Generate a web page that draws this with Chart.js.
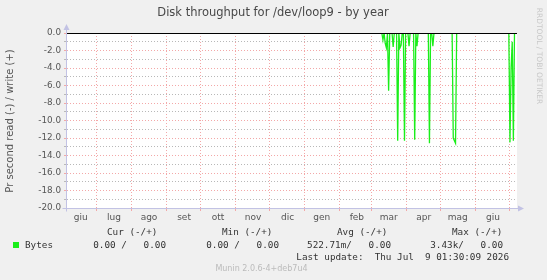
<!DOCTYPE html>
<html>
<head>
<meta charset="utf-8">
<title>Disk throughput for /dev/loop9 - by year</title>
<script src="https://cdn.jsdelivr.net/npm/chart.js@4.4.0/dist/chart.umd.min.js"></script>
<style>
  html, body { margin: 0; padding: 0; background: #f0f0f0; }
  canvas { display: block; }
</style>
</head>
<body>
<canvas id="maincanvas" width="547" height="280"></canvas>
<script>
// x values are days counted from 1 Jul 2025
var xStart = -25.6, xEnd = 371.2;
var monthStarts = [0, 31, 62, 92, 123, 153, 184, 215, 243, 274, 304, 335, 365];
var monthLabels = ["giu", "lug", "ago", "set", "ott", "nov", "dic", "gen", "feb", "mar", "apr", "mag", "giu"];
var monthLabelDays = [-13.5, 15.9, 46.7, 77.6, 107.6, 138.4, 169, 199, 230, 258, 289, 319, 350];

// read bytes per second (negative = read), daily samples
var readDays = [250, 252, 253, 254, 255, 256, 257, 258, 259, 261, 262, 263, 265, 266, 267, 268, 269, 270,
                271, 272, 273, 275, 276, 277, 280, 281, 282, 283, 284, 293, 294, 295, 296, 297, 298,
                314, 315, 316, 317, 318, 364, 365, 366, 367, 368, 369, 371];
var readValues = [0, 0, -0.8, 0, -1.2, -1.7, 0, -6.6, 0, 0, -1.6, 0, 0, -12.3, 0, -1.7, -1.4, 0,
                  0, -12.3, 0, 0, -1.5, 0, 0, -12.2, 0, -1.5, 0, 0, -12.6, 0, 0, -1.5, 0,
                  0, -12.0, -12.3, -12.6, 0, 0, -12.5, -4, -1, -12.3, 0, 0];

var yMin = -20, yMax = 0;

var statHeads = ["Cur (-/+)", "Min (-/+)", "Avg (-/+)", "Max (-/+)"];
var statBytes = ["0.00 /   0.00", "0.00 /   0.00", "522.71m/   0.00", "3.43k/   0.00"];
var lastUpdate = "Last update:  Thu Jul  9 01:30:09 2026";

var green = "#1aee1a";
var axisBlue = "#c2c2e4";
var majorGrid = "#f3a8a8";
var minorGrid = "#b8b8b8";
var mono = "'DejaVu Sans Mono', monospace";
var sans = "'DejaVu Sans', sans-serif";

var points = readDays.map(function(d, i){ return {x: d, y: readValues[i]}; });

var muninDecor = {
    id: "muninDecor",
    beforeDraw: function(chart){
        var c = chart.ctx, a = chart.chartArea;
        c.save();
        c.fillStyle = "#f0f0f0";
        c.fillRect(0, 0, chart.width, chart.height);
        c.fillStyle = "#ffffff";
        c.fillRect(a.left, a.top, a.right - a.left, a.bottom - a.top);
        c.restore();
    },
    afterDatasetsDraw: function(chart){
        var c = chart.ctx, a = chart.chartArea;
        var y0 = Math.round(chart.scales.y.getPixelForValue(0)) + 0.5;
        c.save();
        c.strokeStyle = "#000";
        c.lineWidth = 1;
        c.beginPath();
        c.moveTo(a.left, y0);
        c.lineTo(a.right, y0);
        c.stroke();
        c.restore();
    },
    afterDraw: function(chart){
        var c = chart.ctx, a = chart.chartArea;
        c.save();
        // axes with arrows
        c.strokeStyle = axisBlue;
        c.fillStyle = axisBlue;
        c.lineWidth = 1;
        var ax = a.left - 0.5, ay = a.bottom + 0.5;
        c.beginPath();
        c.moveTo(ax, ay + 3); c.lineTo(ax, a.top - 4);
        c.moveTo(ax - 4, ay); c.lineTo(a.right + 2, ay);
        c.stroke();
        c.beginPath();
        c.moveTo(ax, a.top - 9); c.lineTo(ax - 3, a.top - 3); c.lineTo(ax + 3, a.top - 3); c.closePath();
        c.fill();
        c.beginPath();
        c.moveTo(a.right + 7, ay); c.lineTo(a.right + 1, ay - 3); c.lineTo(a.right + 1, ay + 3); c.closePath();
        c.fill();

        // title
        c.fillStyle = "#484848";
        c.font = "11.5px " + sans;
        c.textAlign = "center";
        c.textBaseline = "middle";
        c.fillText("Disk throughput for /dev/loop9 - by year", 273, 13);

        // y axis title
        c.save();
        c.translate(10, 121);
        c.rotate(-Math.PI / 2);
        c.fillStyle = "#555";
        c.font = "10px " + sans;
        c.fillText("Pr second read (-) / write (+)", 0, 0);
        c.restore();

        // rrdtool credit
        c.save();
        c.translate(539, 56);
        c.rotate(Math.PI / 2);
        c.fillStyle = "#c8c8c8";
        c.font = "7.5px " + sans;
        c.fillText("RRDTOOL / TOBI OETIKER", 0, 0);
        c.restore();

        // legend and stats
        c.fillStyle = "#333";
        c.font = "9.3px " + mono;
        c.textAlign = "left";
        var headX = [107, 222, 337, 452];
        statHeads.forEach(function(t, i){ c.fillText(t, headX[i], 233); });
        c.fillStyle = green;
        c.fillRect(13, 242, 6, 6);
        c.fillStyle = "#333";
        c.fillText("Bytes", 25, 245.5);
        c.textAlign = "right";
        var valX = [166, 279, 391, 503];
        statBytes.forEach(function(t, i){ c.fillText(t, valX[i], 245.5); });
        c.fillText(lastUpdate, 509, 258);

        c.textAlign = "center";
        c.fillStyle = "#bbb";
        c.font = "8px " + sans;
        c.fillText("Munin 2.0.6-4+deb7u4", 261.5, 269);
        c.restore();
    }
};

var mainchart = document.getElementById("maincanvas").getContext("2d");
var mainLineChart = new Chart(mainchart, {
    type: "line",
    data: {
        datasets: [{
            label: "Bytes",
            data: points,
            borderColor: green,
            borderWidth: 1.3,
            pointRadius: 0,
            tension: 0,
            fill: false
        }]
    },
    options: {
        responsive: false,
        animation: false,
        layout: { padding: { top: 33, right: 30, bottom: 0, left: 0 } },
        plugins: { legend: { display: false }, tooltip: { enabled: false } },
        scales: {
            x: {
                type: "linear",
                position: "bottom",
                weight: 0,
                min: xStart,
                max: xEnd,
                afterBuildTicks: function(scale){
                    scale.ticks = monthStarts.map(function(v){ return {value: v}; });
                },
                afterFit: function(scale){ scale.height = 0; },
                ticks: { display: false },
                grid: { color: majorGrid, tickLength: 3, borderDash: [1, 2] },
                border: { display: false, dash: [1, 2] }
            },
            xl: {
                type: "linear",
                position: "bottom",
                weight: 1,
                min: xStart,
                max: xEnd,
                afterBuildTicks: function(scale){
                    scale.ticks = monthLabelDays.map(function(v){ return {value: v}; });
                },
                afterFit: function(scale){ scale.height = 72; },
                ticks: {
                    autoSkip: false,
                    maxRotation: 0,
                    padding: 4,
                    color: "#555",
                    font: { family: "DejaVu Sans", size: 9 },
                    callback: function(v, i){ return monthLabels[i]; }
                },
                grid: { display: false, drawTicks: false },
                border: { display: false }
            },
            y: {
                min: yMin,
                max: yMax,
                afterFit: function(scale){ scale.width = 67; },
                afterBuildTicks: function(scale){
                    var t = [];
                    for (var v = yMin; v <= yMax; v++) t.push({value: v});
                    scale.ticks = t;
                },
                ticks: {
                    autoSkip: false,
                    padding: 3,
                    color: "#555",
                    font: { family: "DejaVu Sans", size: 8.8 },
                    callback: function(v){ return v % 2 === 0 ? v.toFixed(1) : ""; }
                },
                grid: {
                    tickLength: 3,
                    borderDash: [1, 2],
                    color: function(ctx){
                        return ctx.tick && ctx.tick.value % 2 === 0 ? majorGrid : minorGrid;
                    }
                },
                border: { display: false, dash: [1, 2] }
            }
        }
    },
    plugins: [muninDecor]
});
</script>
</body>
</html>
